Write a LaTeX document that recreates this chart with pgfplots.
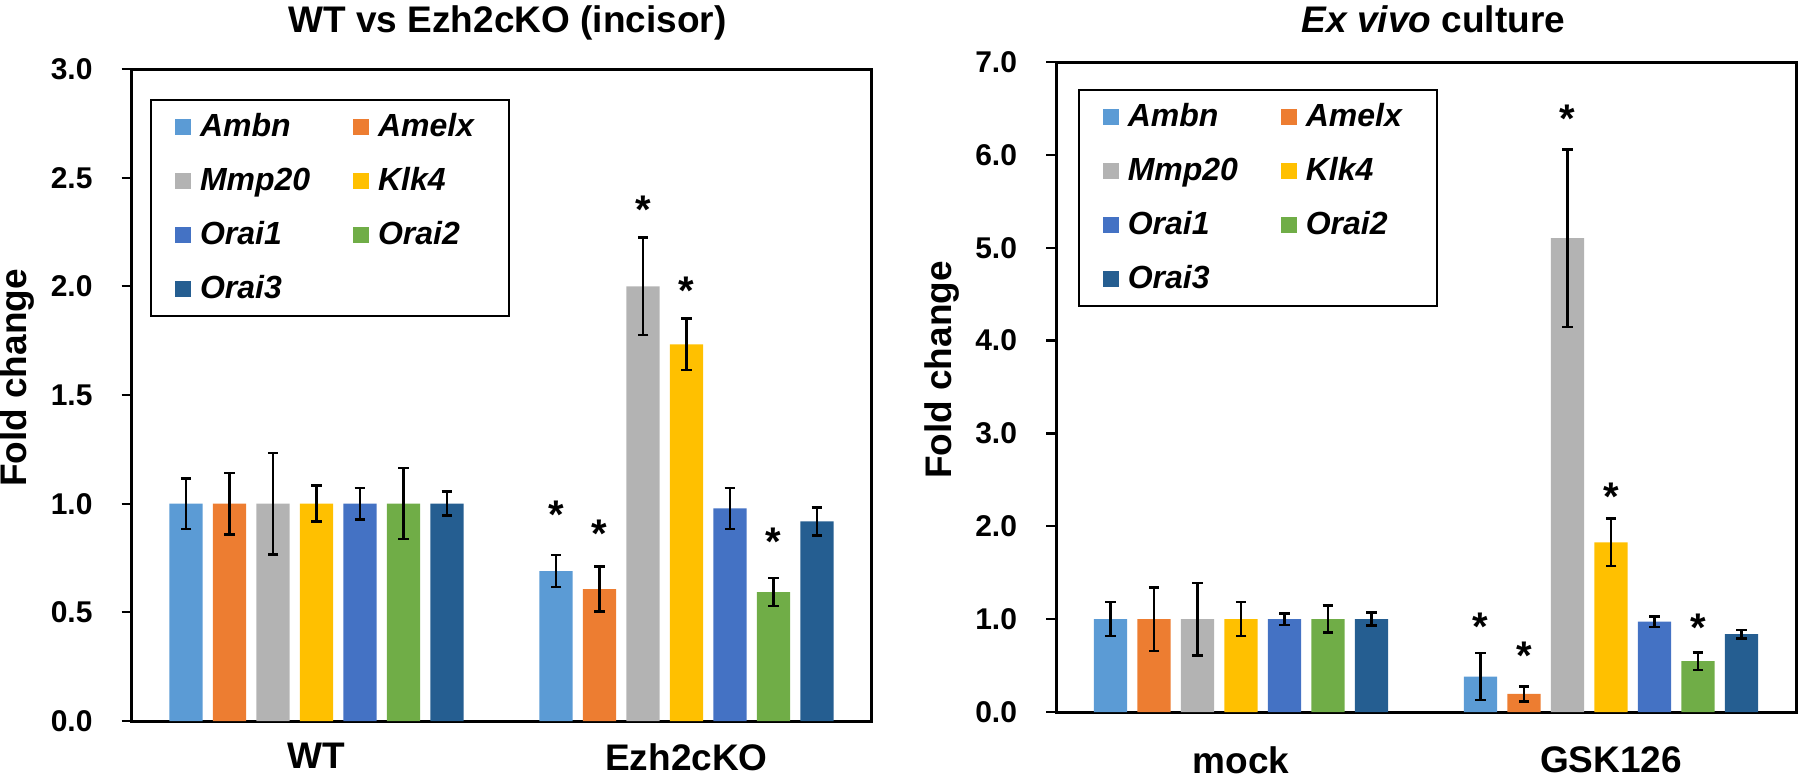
\documentclass[border=0pt]{standalone}
\usepackage{pgfplots}
\pgfplotsset{compat=1.18}
\usepackage{pgfplotstable}
\usepackage{fontspec}
\setmainfont{Liberation Sans}

\definecolor{cAmbn}{HTML}{5B9BD5}
\definecolor{cAmelx}{HTML}{ED7D31}
\definecolor{cMmp}{HTML}{B3B3B3}
\definecolor{cKlk}{HTML}{FFC000}
\definecolor{cOraiA}{HTML}{4472C4}
\definecolor{cOraiB}{HTML}{70AD47}
\definecolor{cOraiC}{HTML}{255E91}

% group x, value, error for each gene
\pgfplotstableread{
x  Ambn  AmbnE Amelx AmelxE Mmp  MmpE  Klk   KlkE  OA    OAE   OB    OBE   OC    OCE
0  1.0   0.116 1.0   0.142  1.0  0.233 1.0   0.083 1.0   0.073 1.0   0.163 1.0   0.055
1  0.690 0.073 0.607 0.103  2.0  0.225 1.733 0.118 0.978 0.094 0.593 0.064 0.918 0.065
}\leftdata
\pgfplotstableread{
x  Ambn  AmbnE Amelx AmelxE Mmp   MmpE  Klk   KlkE  OA    OAE   OB    OBE   OC    OCE
0  1.0   0.183 1.0   0.342  1.0   0.392 1.0   0.183 1.0   0.063 1.0   0.145 1.0   0.070
1  0.382 0.251 0.196 0.081  5.103 0.954 1.828 0.256 0.974 0.056 0.547 0.093 0.839 0.045
}\rightdata
% significance asterisks (x position, y of star centre)
\pgfplotstableread{
x      y
0.6475 0.990
0.7650 0.903
0.8825 2.395
1.0000 2.020
1.2350 0.867
}\leftstars
\pgfplotstableread{
x      y
0.6475 1.015
0.7650 0.700
0.8825 6.490
1.0000 2.410
1.2350 1.005
}\rightstars

\pgfplotsset{
  mybar/.style={ybar, bar width=0.09, bar shift=0, fill=#1, draw=none,
    legend image code/.code={\fill[##1,/tikz/.cd,draw=none] (0pt,-3.2pt) rectangle (6.4pt,3.2pt);},
    error bars/.cd, y dir=both, y explicit,
    error bar style={line width=1pt,black},
    error mark options={rotate=90,mark size=2.1pt,line width=1pt,black}},
  starplot/.style={draw=none, mark=none, nodes near coords={*},
    every node near coord/.append style={anchor=base, inner sep=0pt, yshift=-9.1pt,
      font=\fontsize{16}{16}\selectfont\bfseries}},
  common/.style={
    scale only axis, width=296pt, anchor=south west,
    xmin=-0.5, xmax=1.5, xtick={0,1},
    clip=false,
    axis line style={line width=1.2pt},
    tick align=outside, major tick length=4pt,
    ytick pos=left, xtick style={draw=none},
    ytick style={line width=0.9pt,black},
    y tick label style={font=\fontsize{12}{12}\selectfont\bfseries, inner sep=0pt, xshift=-11.4pt,
      /pgf/number format/fixed, /pgf/number format/fixed zerofill,
      /pgf/number format/precision=1, /pgf/number format/assume math mode=true},
    x tick label style={font=\fontsize{14.8}{14.8}\selectfont\bfseries, inner sep=0pt, anchor=north},
    ylabel={Fold change},
    every axis y label/.style={at={(rel axis cs:0,0.5)}, xshift=-45.6pt, yshift=6.8pt, rotate=90, anchor=center,
      font=\fontsize{14.8}{14.8}\selectfont\bfseries},
    title style={at={(0.5,1)}, anchor=base, font=\fontsize{14.8}{14.8}\selectfont\bfseries},
    legend columns=2, legend cell align=left,
    legend style={at={(0,1)}, anchor=north west, draw=black, line width=0.8pt,
      inner xsep=9.6pt, inner ysep=0pt, row sep=0pt, column sep=0pt,
      font=\fontsize{12.8}{12.8}\selectfont\bfseries\itshape,
      nodes={inner sep=0pt, minimum height=21.6pt, anchor=west},
      /tikz/every odd column/.append style={column sep=3.6pt}},
  }
}

\begin{document}
\begin{tikzpicture}
\useasboundingbox (0,0) rectangle (720pt,311.6pt);

\begin{axis}[common,
  at={(52.6pt,23.2pt)}, height=260.8pt,
  ymin=0, ymax=3, ytick={0,0.5,1,1.5,2,2.5,3},
  xticklabels={WT,Ezh2cKO},
  x tick label style={yshift=-4.8pt},
  title={WT vs Ezh2cKO (incisor)},
  title style={yshift=8.8pt, xshift=2.4pt},
  legend style={xshift=7.4pt, yshift=-12pt},
]
\addplot[mybar=cAmbn]  table[x expr=\thisrow{x}-0.3525, y=Ambn,  y error=AmbnE]  {\leftdata};
\addplot[mybar=cAmelx] table[x expr=\thisrow{x}-0.235,  y=Amelx, y error=AmelxE] {\leftdata};
\addplot[mybar=cMmp]   table[x expr=\thisrow{x}-0.1175, y=Mmp,   y error=MmpE]   {\leftdata};
\addplot[mybar=cKlk]   table[x=x,                       y=Klk,   y error=KlkE]   {\leftdata};
\addplot[mybar=cOraiA] table[x expr=\thisrow{x}+0.1175, y=OA,    y error=OAE]    {\leftdata};
\addplot[mybar=cOraiB] table[x expr=\thisrow{x}+0.235,  y=OB,    y error=OBE]    {\leftdata};
\addplot[mybar=cOraiC] table[x expr=\thisrow{x}+0.3525, y=OC,    y error=OCE]    {\leftdata};
\addplot[starplot] table[x=x, y=y] {\leftstars};
\legend{\makebox[61.2pt][l]{Ambn}, \makebox[42.8pt][l]{Amelx},
        \makebox[61.2pt][l]{Mmp20}, \makebox[42.8pt][l]{Klk4},
        \makebox[61.2pt][l]{Orai1}, \makebox[42.8pt][l]{Orai2},
        \makebox[61.2pt][l]{Orai3}}
\end{axis}

\begin{axis}[common,
  at={(422.4pt,26.8pt)}, height=260pt,
  ymin=0, ymax=7, ytick={0,1,2,3,4,5,6,7},
  xticklabels={mock,GSK126},
  x tick label style={yshift=-9.6pt},
  title={\textit{Ex vivo} culture},
  title style={yshift=6pt, xshift=3pt},
  legend style={xshift=8.7pt, yshift=-10.8pt},
]
\addplot[mybar=cAmbn]  table[x expr=\thisrow{x}-0.3525, y=Ambn,  y error=AmbnE]  {\rightdata};
\addplot[mybar=cAmelx] table[x expr=\thisrow{x}-0.235,  y=Amelx, y error=AmelxE] {\rightdata};
\addplot[mybar=cMmp]   table[x expr=\thisrow{x}-0.1175, y=Mmp,   y error=MmpE]   {\rightdata};
\addplot[mybar=cKlk]   table[x=x,                       y=Klk,   y error=KlkE]   {\rightdata};
\addplot[mybar=cOraiA] table[x expr=\thisrow{x}+0.1175, y=OA,    y error=OAE]    {\rightdata};
\addplot[mybar=cOraiB] table[x expr=\thisrow{x}+0.235,  y=OB,    y error=OBE]    {\rightdata};
\addplot[mybar=cOraiC] table[x expr=\thisrow{x}+0.3525, y=OC,    y error=OCE]    {\rightdata};
\addplot[starplot] table[x=x, y=y] {\rightstars};
\legend{\makebox[61.2pt][l]{Ambn}, \makebox[42.8pt][l]{Amelx},
        \makebox[61.2pt][l]{Mmp20}, \makebox[42.8pt][l]{Klk4},
        \makebox[61.2pt][l]{Orai1}, \makebox[42.8pt][l]{Orai2},
        \makebox[61.2pt][l]{Orai3}}
\end{axis}
\end{tikzpicture}
\end{document}
